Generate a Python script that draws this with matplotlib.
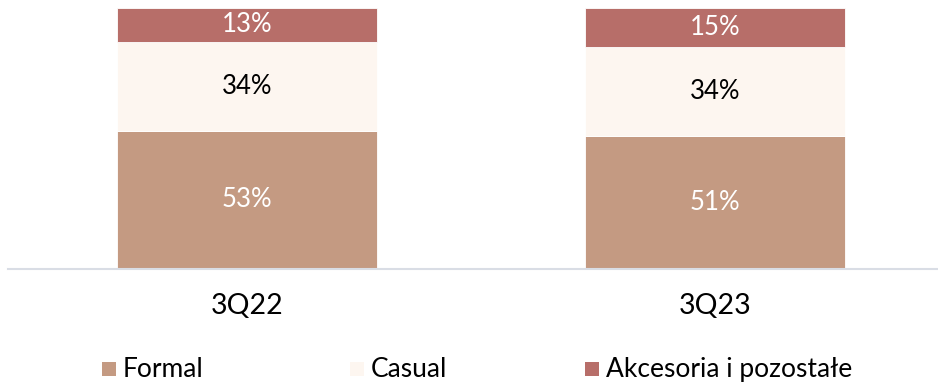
import numpy as np
import matplotlib.pyplot as plt
from matplotlib.patches import Rectangle

plt.rcParams['font.family'] = ['Lato', 'DejaVu Sans']

kwartaly = ['3Q22', '3Q23']
formal = [53, 51]
casual = [34, 34]
akcesoria = [13, 15]

kolory = ['#C49A82', '#FDF6F0', '#B76E69']
nazwy = ['Formal', 'Casual', 'Akcesoria i pozostałe']
kolor_tekstu = ['white', 'black', 'white']

W, H = 938, 382
fig = plt.figure(figsize=(W/100, H/100), dpi=100)
ax = fig.add_axes([8/W, 113/H, 930/W, 261/H])

x = np.arange(len(kwartaly))
dol = np.zeros(len(kwartaly))
for wart, kol, tk in zip([formal, casual, akcesoria], kolory, kolor_tekstu):
    bary = ax.bar(x, wart, width=0.556, bottom=dol, color=kol,
                  edgecolor='white', linewidth=0.6)
    for b, v in zip(bary, wart):
        ax.text(b.get_x() + b.get_width()/2, b.get_y() + b.get_height()/2,
                f'{v}%', ha='center', va='center', fontsize=18.5, color=tk)
    dol += np.array(wart)

ax.set_xlim(-0.5107, 1.4765)
ax.set_ylim(0, 100)
for s in ['top', 'right', 'left']:
    ax.spines[s].set_visible(False)
ax.spines['bottom'].set_color('#D9DDE5')
ax.spines['bottom'].set_linewidth(1.5)
ax.set_yticks([])
ax.set_xticks(x)
ax.set_xticklabels(kwartaly, fontsize=20.5)
ax.tick_params(axis='x', length=0, pad=17)

# legenda rysowana recznie: kwadrat + podpis
for lx, kol, nazwa in zip([102, 350, 585], kolory, nazwy):
    fig.patches.append(Rectangle((lx/W, (H-376)/H), 14/W, 14/H,
                                 transform=fig.transFigure, facecolor=kol,
                                 edgecolor='none'))
    fig.text((lx+21)/W, (H-367)/H, nazwa, ha='left', va='center_baseline',
             fontsize=19, color='black')

fig.savefig('out.png', dpi=100)
